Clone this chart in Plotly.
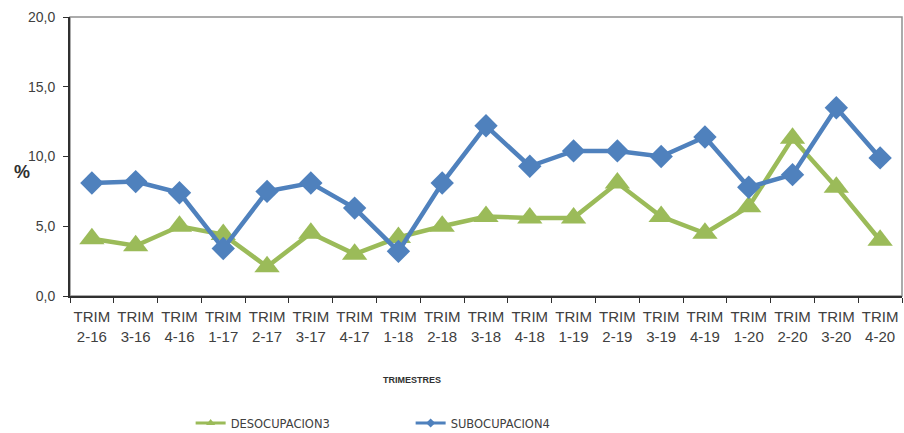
import plotly.graph_objects as go

categories = ["2-16", "3-16", "4-16", "1-17", "2-17", "3-17", "4-17", "1-18", "2-18", "3-18",
              "4-18", "1-19", "2-19", "3-19", "4-19", "1-20", "2-20", "3-20", "4-20"]
tick_labels = ["TRIM<br>" + c for c in categories]
desocupacion = [4.1, 3.6, 5.0, 4.4, 2.1, 4.5, 3.0, 4.2, 5.0, 5.7, 5.6, 5.6, 8.1, 5.7, 4.5, 6.4, 11.3, 7.8, 4.0]
subocupacion = [8.1, 8.2, 7.4, 3.4, 7.5, 8.1, 6.3, 3.2, 8.1, 12.2, 9.3, 10.4, 10.4, 10.0, 11.4, 7.8, 8.7, 13.5, 9.9]

GREEN = "#9BBB59"
BLUE = "#4F81BD"

fig = go.Figure()
fig.add_trace(go.Scatter(
    x=categories, y=desocupacion, name="DESOCUPACION3", mode="lines+markers",
    line=dict(color=GREEN, width=4.5),
    marker=dict(symbol="triangle-up", size=22, color=GREEN),
    showlegend=False,
))
fig.add_trace(go.Scatter(
    x=categories, y=subocupacion, name="SUBOCUPACION4", mode="lines+markers",
    line=dict(color=BLUE, width=4.5),
    marker=dict(symbol="diamond", size=18, color=BLUE),
    showlegend=False,
))
# legend entries with small markers
fig.add_trace(go.Scatter(
    x=[None], y=[None], name="DESOCUPACION3", mode="lines+markers",
    line=dict(color=GREEN, width=3), marker=dict(symbol="triangle-up", size=8, color=GREEN),
))
fig.add_trace(go.Scatter(
    x=[None], y=[None], name="SUBOCUPACION4", mode="lines+markers",
    line=dict(color=BLUE, width=3), marker=dict(symbol="diamond", size=7, color=BLUE),
))

fig.update_layout(
    width=904, height=433,
    margin=dict(l=70, r=2, t=17, b=137, autoexpand=False),
    paper_bgcolor="white", plot_bgcolor="white",
    separators=",.",
    font=dict(family="Liberation Sans, Arial", color="#404040", size=13),
    showlegend=True,
    legend=dict(orientation="h", x=0.145, y=0.023, yref="container",
                xanchor="left", yanchor="middle",
                font=dict(family="DejaVu Sans", size=11.5, color="#404040"),
                entrywidth=175, entrywidthmode="pixels",
                bgcolor="rgba(0,0,0,0)"),
    shapes=[dict(type="rect", xref="paper", yref="paper", x0=0, y0=0, x1=1, y1=1,
                 line=dict(color="#909090", width=1.5), layer="below")],
)
fig.update_xaxes(
    type="category", tickmode="array", tickvals=categories, ticktext=tick_labels,
    range=[-0.5, len(categories) - 0.5],
    showline=True, linecolor="#303030", linewidth=2, mirror=False,
    ticks="outside", ticklen=5, tickcolor="#303030", tickson="boundaries",
    tickangle=0, automargin=False, ticklabelstandoff=6,
    showgrid=False, tickfont=dict(size=15, color="#404040"),
)
fig.update_yaxes(
    range=[0, 20], tickmode="array", tickvals=[0, 5, 10, 15, 20],
    tickformat=".1f", automargin=False,
    showline=True, linecolor="#303030", linewidth=2,
    ticks="outside", ticklen=5, tickcolor="#303030", ticklabelstandoff=5,
    showgrid=False, zeroline=False, tickfont=dict(size=14, color="#404040"),
)
fig.add_annotation(text="<b>TRIMESTRES</b>", xref="paper", yref="paper",
                   x=0.411, y=-0.301, xanchor="center", yanchor="middle", showarrow=False,
                   font=dict(size=9, color="#303030"))
fig.add_annotation(text="<b>%</b>", xref="paper", yref="paper",
                   x=-0.058, y=0.445, xanchor="center", yanchor="middle", showarrow=False,
                   font=dict(size=18, color="#303030"))

fig.write_html("out.html", config={"displayModeBar": False},
               post_script="document.body.style.margin='0px';")
